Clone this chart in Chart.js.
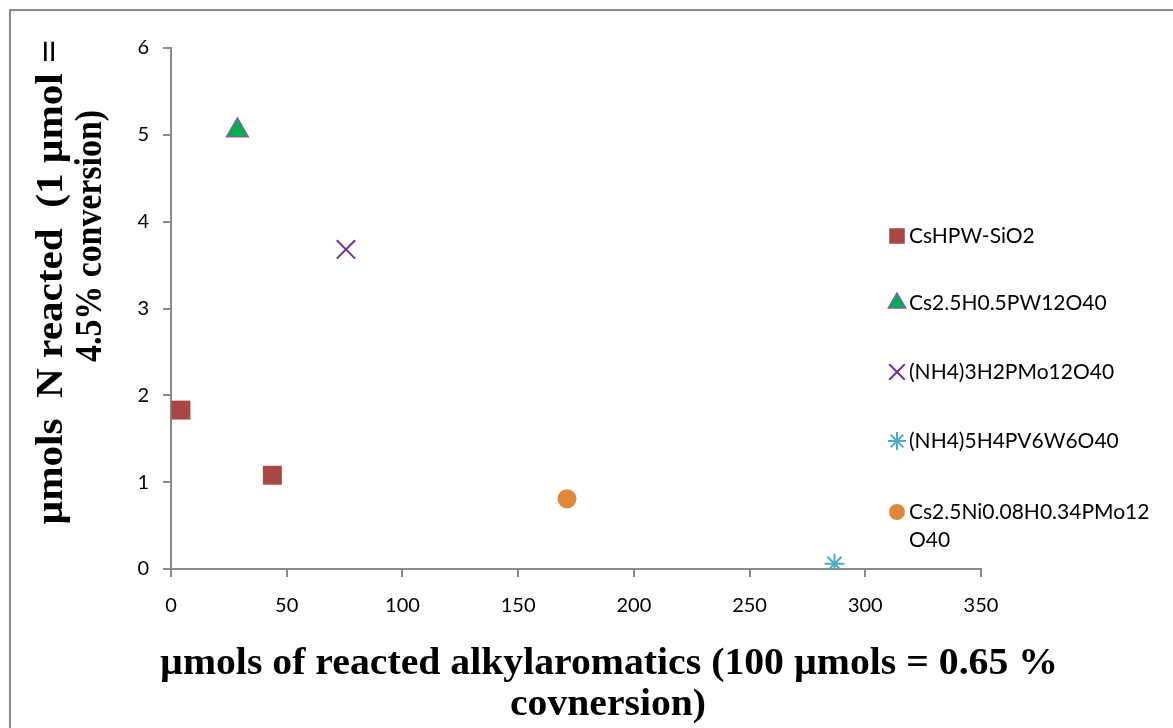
<!DOCTYPE html>
<html>
<head>
<meta charset="utf-8">
<script src="https://cdn.jsdelivr.net/npm/chart.js@4.4.0/dist/chart.umd.min.js"></script>
<style>
    html, body { margin: 0; padding: 0; background: #fff; }
    #wrap { width: 1173px; height: 728px; position: relative; }
</style>
</head>
<body>
<div id="wrap"><canvas id="grafico"></canvas></div>
<script>
// series names (legend order)
const seriesNames = [
    'CsHPW-SiO2',
    'Cs2.5H0.5PW12O40',
    '(NH4)3H2PMo12O40',
    '(NH4)5H4PV6W6O40',
    'Cs2.5Ni0.08H0.34PMo12O40'
];
// x = umols of reacted alkylaromatics, y = umols N reacted
const cshpwX = [4.3, 43.8];
const cshpwY = [1.83, 1.08];
const cs25X = [28.7];
const cs25Y = [5.05];
const nh4MoX = [75.6];
const nh4MoY = [3.68];
const nh4VWX = [286.7];
const nh4VWY = [0.06];
const csNiX = [171.1];
const csNiY = [0.81];

const xTicks = [0, 50, 100, 150, 200, 250, 300, 350];
const yTicks = [0, 1, 2, 3, 4, 5, 6];

const xTitle = ['\u00b5mols of reacted alkylaromatics (100 \u00b5mols = 0.65 %', 'covnersion)'];
const yTitle = ['\u00b5mols  N reacted  (1 \u00b5mol =', '4.5% conversion)'];

function pares(xs, ys) {
    return xs.map((x, i) => ({ x: x, y: ys[i] }));
}

const estilos = [
    { pointStyle: 'rect', pointRadius: 13.4, backgroundColor: '#A94744', borderColor: '#A94744', borderWidth: 0, legR: 11 },
    { pointStyle: 'triangle', pointRadius: 12.5, backgroundColor: '#00B050', borderColor: '#7F5FA8', borderWidth: 1.5, legR: 10 },
    { pointStyle: 'crossRot', pointRadius: 13, backgroundColor: '#7030A0', borderColor: '#7030A0', borderWidth: 2, legR: 11 },
    { pointStyle: 'star', pointRadius: 10, backgroundColor: '#4BACC6', borderColor: '#4BACC6', borderWidth: 2, legR: 9 },
    { pointStyle: 'circle', pointRadius: 9.5, backgroundColor: '#E0873C', borderColor: '#E0873C', borderWidth: 0, legR: 8 }
];

const datos = [pares(cshpwX, cshpwY), pares(cs25X, cs25Y), pares(nh4MoX, nh4MoY), pares(nh4VWX, nh4VWY), pares(csNiX, csNiY)];

const datasets = datos.map((d, i) => ({
    label: seriesNames[i],
    data: d,
    pointStyle: estilos[i].pointStyle,
    pointRadius: estilos[i].pointRadius,
    pointHoverRadius: estilos[i].pointRadius,
    backgroundColor: estilos[i].backgroundColor,
    borderColor: estilos[i].borderColor,
    borderWidth: estilos[i].borderWidth,
    showLine: false
}));

// draw a text line, squeezed along its direction to a target length
function lineaAjustada(ctx, texto, cx, cy, largo) {
    const escala = largo / ctx.measureText(texto).width;
    ctx.save();
    ctx.translate(cx, cy);
    ctx.scale(escala, 1);
    ctx.fillText(texto, 0, 0);
    ctx.restore();
}

const extras = {
    id: 'extras',
    beforeDraw(chart) {
        const ctx = chart.ctx;
        ctx.save();
        ctx.fillStyle = '#fff';
        ctx.fillRect(0, 0, chart.width, chart.height);
        ctx.strokeStyle = '#8a8a8a';
        ctx.lineWidth = 2;
        ctx.beginPath();
        ctx.moveTo(10, chart.height + 5);
        ctx.lineTo(10, 10);
        ctx.lineTo(chart.width + 5, 10);
        ctx.stroke();
        ctx.restore();
    },
    afterDraw(chart) {
        const ctx = chart.ctx;
        ctx.save();
        ctx.fillStyle = '#000';
        ctx.textAlign = 'center';
        ctx.textBaseline = 'alphabetic';
        ctx.font = 'bold 37px "Liberation Serif", "Times New Roman", serif';

        // x title
        lineaAjustada(ctx, xTitle[0], 609, 674, 898);
        lineaAjustada(ctx, xTitle[1], 608, 715, 196);

        // y title (rotated)
        ctx.font = 'bold 38px "Liberation Serif", "Times New Roman", serif';
        ctx.save();
        ctx.translate(62, 282);
        ctx.rotate(-Math.PI / 2);
        lineaAjustada(ctx, yTitle[0], 0, 0, 485);
        ctx.restore();
        ctx.save();
        ctx.translate(101, 236);
        ctx.rotate(-Math.PI / 2);
        lineaAjustada(ctx, yTitle[1], 0, 0, 252);
        ctx.restore();

        // legend
        const filas = [236, 303, 372, 441, 512];
        ctx.font = '21px Lato, "Open Sans", sans-serif';
        ctx.textAlign = 'left';
        ctx.textBaseline = 'middle';
        filas.forEach((fy, i) => {
            const e = estilos[i];
            ctx.fillStyle = e.backgroundColor;
            ctx.strokeStyle = e.borderColor;
            ctx.lineWidth = e.borderWidth;
            Chart.helpers.drawPoint(ctx, {
                pointStyle: e.pointStyle,
                radius: e.legR,
                rotation: 0,
                borderWidth: e.borderWidth
            }, 897, fy);
            ctx.fillStyle = '#000';
            if (i === 4) {
                ctx.fillText('Cs2.5Ni0.08H0.34PMo12', 909, fy);
                ctx.fillText('O40', 909, fy + 28);
            } else {
                ctx.fillText(seriesNames[i], 909, fy);
            }
        });
        ctx.restore();
    }
};

const ctx = document.getElementById('grafico').getContext('2d');
new Chart(ctx, {
    type: 'scatter',
    data: { datasets: datasets },
    options: {
        responsive: true,
        maintainAspectRatio: false,
        animation: false,
        layout: { padding: { left: 0, right: 192, top: 48, bottom: 0 } },
        plugins: {
            legend: { display: false },
            tooltip: { enabled: false }
        },
        scales: {
            x: {
                type: 'linear',
                min: 0,
                max: 350,
                afterFit: s => { s.height = 159; },
                afterBuildTicks: s => { s.ticks = xTicks.map(v => ({ value: v })); },
                border: { color: '#8a8a8a', width: 2 },
                grid: { display: true, drawOnChartArea: false, drawTicks: true, tickLength: 8, color: '#8a8a8a', lineWidth: 2 },
                ticks: { color: '#000', padding: 17, font: { family: 'Lato, "Open Sans", sans-serif', size: 20 } }
            },
            y: {
                type: 'linear',
                min: 0,
                max: 6,
                afterFit: s => { s.width = 171; },
                afterBuildTicks: s => { s.ticks = yTicks.map(v => ({ value: v })); },
                border: { color: '#8a8a8a', width: 2 },
                grid: { display: true, drawOnChartArea: false, drawTicks: true, tickLength: 8, color: '#8a8a8a', lineWidth: 2 },
                ticks: { color: '#000', padding: 14, font: { family: 'Lato, "Open Sans", sans-serif', size: 20 } }
            }
        }
    },
    plugins: [extras]
});
</script>
</body>
</html>
